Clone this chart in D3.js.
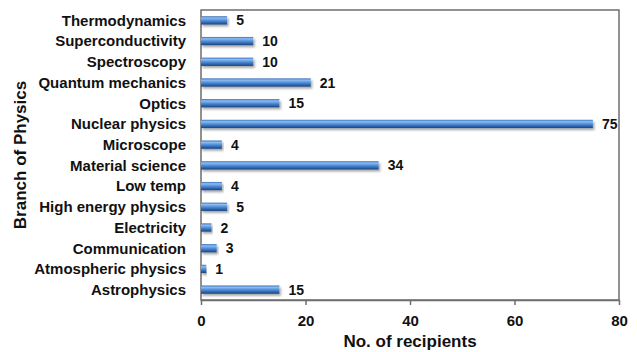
<!DOCTYPE html>
<html>
<head>
<meta charset="utf-8">
<script src="https://cdn.jsdelivr.net/npm/d3@7"></script>
<style>
  html, body { margin: 0; padding: 0; background: #fff; }
  svg { display: block; font-family: "Liberation Sans", Arial, sans-serif; }
</style>
</head>
<body>
<svg id="chart" width="637" height="352"></svg>
<script>
// Recipients per branch of physics (top to bottom)
const branches = [
  "Thermodynamics", "Superconductivity", "Spectroscopy", "Quantum mechanics",
  "Optics", "Nuclear physics", "Microscope", "Material science", "Low temp",
  "High energy physics", "Electricity", "Communication", "Atmospheric physics",
  "Astrophysics"
];
const recipients = [5, 10, 10, 21, 15, 75, 4, 34, 4, 5, 2, 3, 1, 15];
const xTicks = [0, 20, 40, 60, 80];

const svg = d3.select("#chart");
const margin = { left: 201, right: 18, top: 10, bottom: 52 };
const W = 637, H = 352;

const x = d3.scaleLinear().domain([0, 80]).range([margin.left, W - margin.right]);
const y = d3.scaleBand().domain(branches).range([margin.top, H - margin.bottom]).paddingInner(0.6).paddingOuter(0.3);

// Bar fill: light top edge, mid blue body, dark lower edge
const defs = svg.append("defs");
const grad = defs.append("linearGradient").attr("id", "barGrad")
  .attr("x1", 0).attr("y1", 0).attr("x2", 0).attr("y2", 1);
[["0%", "#3a70b8"], ["22%", "#8cbcf0"], ["50%", "#5490da"], ["80%", "#2c62aa"], ["100%", "#1b437c"]]
  .forEach(([o, c]) => grad.append("stop").attr("offset", o).attr("stop-color", c));
const shadow = defs.append("filter").attr("id", "barShadow")
  .attr("x", "-5%").attr("y", "-50%").attr("width", "115%").attr("height", "250%");
shadow.append("feDropShadow").attr("dx", 1.5).attr("dy", 2).attr("stdDeviation", 1)
  .attr("flood-color", "#000").attr("flood-opacity", 0.35);

// Plot frame
svg.append("rect")
  .attr("x", x(0)).attr("y", margin.top)
  .attr("width", x(80) - x(0)).attr("height", H - margin.bottom - margin.top)
  .attr("fill", "none").attr("stroke", "#6e6e6e").attr("stroke-width", 1.5);

// Bars
svg.append("g").selectAll("rect").data(branches).join("rect")
  .attr("x", x(0))
  .attr("y", d => y(d))
  .attr("width", (d, i) => x(recipients[i]) - x(0))
  .attr("height", y.bandwidth())
  .attr("fill", "url(#barGrad)")
  .attr("filter", "url(#barShadow)");

// Value labels
svg.append("g").selectAll("text").data(branches).join("text")
  .attr("x", (d, i) => x(recipients[i]) + 9)
  .attr("y", d => y(d) + y.bandwidth() / 2)
  .attr("dy", "0.36em")
  .attr("font-size", 14).attr("font-weight", "bold").attr("fill", "#111")
  .text((d, i) => recipients[i]);

// Category labels
svg.append("g").selectAll("text").data(branches).join("text")
  .attr("x", 186)
  .attr("y", d => y(d) + y.bandwidth() / 2)
  .attr("dy", "0.36em")
  .attr("text-anchor", "end")
  .attr("font-size", 15).attr("font-weight", "bold").attr("fill", "#111")
  .text(d => d);

// X axis
const xAxis = svg.append("g")
  .attr("transform", `translate(0,${H - margin.bottom})`)
  .call(d3.axisBottom(x).tickValues(xTicks).tickSize(5).tickSizeOuter(0));
xAxis.select(".domain").attr("stroke", "#6e6e6e").attr("stroke-width", 1.5);
xAxis.selectAll(".tick line").attr("stroke", "#6e6e6e").attr("stroke-width", 1.5);
xAxis.selectAll(".tick text")
  .attr("font-size", 15).attr("font-weight", "bold").attr("fill", "#111")
  .attr("font-family", "Liberation Sans, Arial, sans-serif").attr("y", 11).attr("dy", "1.0em");

// Axis titles
svg.append("text")
  .attr("x", (x(0) + x(80)) / 2).attr("y", 347)
  .attr("text-anchor", "middle")
  .attr("font-size", 17).attr("font-weight", "bold").attr("fill", "#111")
  .text("No. of recipients");

svg.append("text")
  .attr("transform", `translate(26,${(margin.top + H - margin.bottom) / 2}) rotate(-90)`)
  .attr("text-anchor", "middle")
  .attr("font-size", 17).attr("font-weight", "bold").attr("fill", "#111")
  .text("Branch of Physics");
</script>
</body>
</html>
